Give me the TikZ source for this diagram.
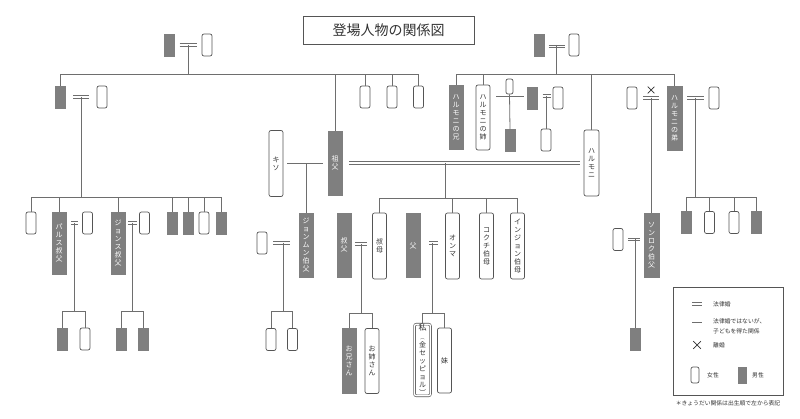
\documentclass[tikz,border=0pt]{standalone}
\usepackage{fontspec}
\setmainfont{Noto Sans CJK JP}
\usepackage{tikz}
\usetikzlibrary{positioning, calc, shapes, arrows, fit}

\definecolor{malegray}{HTML}{7F7F7F}
\definecolor{linegray}{HTML}{6E6E6E}
\definecolor{boxgray}{HTML}{555555}
\definecolor{textgray}{HTML}{333333}

\tikzset{
	person/.style = {inner sep = 0pt, align = center, font = \fontsize{7}{8}\selectfont},
	male/.style = {person, fill = malegray, draw = malegray, text = white},
	female/.style = {person, fill = white, draw = boxgray, line width = 0.7pt, rounded corners = 2pt, text = textgray},
	smallbox/.style = {minimum width = 10pt, minimum height = 22pt},
	tallbox/.style = {minimum width = 14pt, minimum height = 64pt},
	conn/.style = {draw = linegray, line width = 0.8pt},
	marriage/.style = {shorten < = 5pt, shorten > = 5pt,
		preaction = {draw = linegray, line width = 0.7pt, transform canvas = {yshift = 1.2pt}},
		postaction = {draw = linegray, line width = 0.7pt, transform canvas = {yshift = -1.2pt}}},
	divorce/.style = {cross out, draw = textgray, line width = 0.7pt, minimum size = 6pt, inner sep = 0pt},
	legendtext/.style = {font = \fontsize{5.8}{10}\selectfont, text = textgray, align = left, inner sep = 0pt, anchor = west}
}

\begin{document}
\begin{tikzpicture}[x = 1pt, y = -1pt]
	\fill[white] (0,0) rectangle (800,419);
	\useasboundingbox (0,0) rectangle (800,419);

	% title
	\node[draw = boxgray, line width = 0.7pt, minimum width = 171pt, minimum height = 28pt, font = \fontsize{14}{16}\selectfont, text = textgray] (title) at (388.5,30) {登場人物の関係図};

	% left side
	\node[male, smallbox] (lgf) at (169.5,45) {};
	\node[female, smallbox] (lgm) at (207,45) {};
	\node[male, smallbox] (lc1) at (60,97) {};
	\node[female, smallbox] (lc1w) at (102,97) {};
	\node[male, tallbox] (sofu) at (335,163) {祖\\父};
	\node[female, smallbox] (lc2) at (365,97) {};
	\node[female, smallbox] (lc3) at (392,97) {};
	\node[female, smallbox] (lc4) at (418.5,97) {};
	\node[female, tallbox, minimum height = 66pt] (kiso) at (276,163.5) {キ\\ソ};

	\node[female, smallbox] (p1) at (31,223) {};
	\node[male, tallbox, minimum height = 62pt] (pars) at (59,243) {パ\\ル\\ス\\叔\\父};
	\node[female, smallbox] (parsw) at (87.5,223) {};
	\node[male, tallbox, minimum height = 62pt] (jons) at (118,243) {ジ\\ョ\\ン\\ス\\叔\\父};
	\node[female, smallbox] (jonsw) at (144.5,223) {};
	\node[male, smallbox] (p2) at (172,223) {};
	\node[male, smallbox] (p3) at (188,223) {};
	\node[female, smallbox] (p4) at (204,223) {};
	\node[male, smallbox] (p5) at (221,223) {};
	\node[male, smallbox] (pk1) at (62,339) {};
	\node[female, smallbox] (pk2) at (85,339) {};
	\node[male, smallbox] (jk1) at (121,339) {};
	\node[male, smallbox] (jk2) at (143,339) {};

	% middle
	\node[male, tallbox] (jongmun) at (306,245) {ジ\\ョ\\ン\\ム\\ン\\伯\\父};
	\node[female, smallbox] (jongmunw) at (262,243) {};
	\node[female, smallbox] (jm1) at (271,339.5) {};
	\node[female, smallbox] (jm2) at (292.5,339.5) {};
	\node[male, tallbox] (oji) at (344,245) {叔\\父};
	\node[female, tallbox, minimum height = 66pt] (oba) at (379.5,246) {叔\\母};
	\node[male, tallbox, minimum height = 65pt] (ani) at (349,360.5) {お\\兄\\さ\\ん};
	\node[female, tallbox, minimum height = 65pt] (ane) at (372,361) {お\\姉\\さ\\ん};
	\node[male, tallbox] (chichi) at (413,245.5) {父};
	\node[female, tallbox, minimum height = 66pt] (omma) at (452.5,246) {オ\\ン\\マ};
	\node[female, double = white, double distance = 1.3pt, line width = 0.6pt, minimum width = 16pt, minimum height = 64pt] (watashi) at (422.5,360) {\fontsize{8}{9}\selectfont 私\\[1pt]\fontsize{4.3}{4.7}\selectfont ︵\\金\\セ\\ッ\\ピ\\ョ\\ル\\︶};
	\node[female, tallbox, minimum height = 65pt] (imouto) at (444.5,360.5) {妹};
	\node[female, tallbox, minimum height = 66pt] (kokchi) at (486.5,246) {コ\\ク\\チ\\伯\\母};
	\node[female, tallbox, minimum height = 66pt] (injon) at (517.5,246) {イ\\ン\\ジ\\ョ\\ン\\伯\\母};

	% right side
	\node[male, smallbox] (rgf) at (539.5,45) {};
	\node[female, smallbox] (rgm) at (574,45) {};
	\node[male, tallbox] (hbro) at (456,117) {ハ\\ル\\モ\\ニ\\の\\兄};
	\node[female, tallbox, minimum height = 65pt] (hsis) at (483,117.5) {ハ\\ル\\モ\\ニ\\の\\姉};
	\node[female, minimum width = 7pt, minimum height = 15pt] (hsmall) at (509.5,86.5) {};
	\node[male, smallbox] (hsk) at (510,140.5) {};
	\node[male, smallbox] (hm) at (532.5,98) {};
	\node[female, smallbox] (hw) at (558,98) {};
	\node[female, smallbox] (hmk) at (546,140) {};
	\node[female, tallbox, minimum width = 15pt, minimum height = 66pt] (hal) at (591.5,163) {ハ\\ル\\モ\\ニ};
	\node[female, smallbox] (exw) at (632,98) {};
	\node[male, tallbox, minimum width = 15pt] (hyo) at (674.5,118) {ハ\\ル\\モ\\ニ\\の\\弟};
	\node[female, smallbox] (hyow) at (714,98) {};
	\node[male, smallbox] (y1) at (686.5,222.5) {};
	\node[female, smallbox] (y2) at (709.5,222.5) {};
	\node[female, smallbox] (y3) at (734,222.5) {};
	\node[male, smallbox] (y4) at (756,222.5) {};
	\node[male, tallbox, minimum width = 15pt] (sonrok) at (651.5,245) {ソ\\ン\\ロ\\ク\\伯\\父};
	\node[female, smallbox] (sonrokw) at (618,239.5) {};
	\node[male, smallbox] (sk) at (635,339) {};
	\node[divorce] (x1) at (651,90) {};

	\coordinate (barA) at (0,74);
	\coordinate (barB) at (0,197);
	\coordinate (barC) at (0,311);
	\coordinate (barD) at (0,198);
	\coordinate (barE) at (0,313);

	% left connectors
	\path[marriage] (lgf) -- (lgm);
	\coordinate (lgc) at ($(lgf.east)!0.5!(lgm.west)$);
	\draw[conn] (lgc) -- (lgc |- barA);
	\draw[conn] (lc1.north) |- (lc4.north |- barA) -- (lc4.north);
	\draw[conn] (sofu.north) -- (sofu.north |- barA);
	\draw[conn] (lc2.north) -- (lc2.north |- barA);
	\draw[conn] (lc3.north) -- (lc3.north |- barA);

	\path[marriage, shorten < = 8pt, shorten > = 8pt] (lc1) -- (lc1w);
	\coordinate (lcc) at ($(lc1.east)!0.5!(lc1w.west)$);
	\draw[conn] (lcc) -- (lcc |- barB);
	\draw[conn] (p1.north) |- (p5.north |- barB) -- (p5.north);
	\draw[conn] (pars.north) -- (pars.north |- barB);
	\draw[conn] (jons.north) -- (jons.north |- barB);
	\draw[conn] (p2.north) -- (p2.north |- barB);
	\draw[conn] (p3.north) -- (p3.north |- barB);
	\draw[conn] (p4.north) -- (p4.north |- barB);

	\path[marriage, shorten > = 4pt] (parsw.west -| pars.east) -- (parsw.west);
	\coordinate (pc) at ($(parsw.west -| pars.east)!0.5!(parsw.west)$);
	\draw[conn] (pc) -- (pc |- barC);
	\draw[conn] (pk1.north) |- (pk2.north |- barC) -- (pk2.north);

	\path[marriage, shorten < = 3pt, shorten > = 2pt] (jonsw.west -| jons.east) -- (jonsw.west);
	\coordinate (jsc) at ($(jonsw.west -| jons.east)!0.5!(jonsw.west)$);
	\draw[conn] (jsc) -- (jsc |- barC);
	\draw[conn] (jk1.north) |- (jk2.north |- barC) -- (jk2.north);

	% middle connectors
	\draw[conn, shorten < = 4pt, shorten > = 5pt] (kiso.east) -- (kiso.east -| sofu.west);
	\draw[conn] (jongmun.north |- kiso.east) -- (jongmun.north);

	\path[marriage, shorten < = 6pt, shorten > = 9pt] (jongmunw.east) -- (jongmunw.east -| jongmun.west);
	\coordinate (jc) at ($(jongmunw.east)!0.5!(jongmunw.east -| jongmun.west)$);
	\draw[conn] (jc) -- (jc |- barC);
	\draw[conn] (jm1.north) |- (jm2.north |- barC) -- (jm2.north);

	\path[marriage, shorten < = 7pt, shorten > = 4pt] (sofu.east) -- (sofu.east -| hal.west);
	\coordinate (shc) at (sofu.east -| omma.west);
	\draw[conn] (shc) -- (shc |- barD);
	\draw[conn] (oba.north) |- (injon.north |- barD) -- (injon.north);
	\draw[conn] (omma.north) -- (omma.north |- barD);
	\draw[conn] (kokchi.north) -- (kokchi.north |- barD);

	\path[marriage, shorten < = 4pt, shorten > = 5pt] ([yshift = 1pt]oji.east) -- ([yshift = 1pt]oji.east -| oba.west);
	\coordinate (oc) at ($([yshift = 1pt]oji.east)!0.5!([yshift = 1pt]oji.east -| oba.west)$);
	\draw[conn] (oc) -- (oc |- barE);
	\draw[conn] (ani.north) |- (ane.north |- barE) -- (ane.north);

	\path[marriage, shorten < = 9pt, shorten > = 7pt] ([yshift = 2.5pt]chichi.east) -- ([yshift = 2.5pt]chichi.east -| omma.west);
	\coordinate (cc) at ($([yshift = 2.5pt]chichi.east)!0.5!([yshift = 2.5pt]chichi.east -| omma.west)$);
	\draw[conn] (cc) -- (cc |- barE);
	\draw[conn] (watashi.north) |- (imouto.north |- barE) -- (imouto.north);

	% right connectors
	\path[marriage, shorten < = 4pt, shorten > = 4pt] ([yshift = -1.5pt]rgf.east) -- ([yshift = -1.5pt]rgf.east -| rgm.west);
	\coordinate (rc) at ($(rgf.east)!0.5!(rgm.west)$);
	\draw[conn] (rc) -- (rc |- barA);
	\draw[conn] (hbro.north) |- (hyo.north |- barA) -- (hyo.north);
	\draw[conn] (hsis.north) -- (hsis.north |- barA);
	\draw[conn] (hal.north) -- (hal.north |- barA);

	\draw[conn, shorten < = 6pt, shorten > = 3pt] ([yshift = 2pt]hm.west -| hsis.east) -- ([yshift = 2pt]hm.west);
	\draw[conn] (hsmall.south) -- (hsk.north);
	\path[marriage, shorten < = 5pt, shorten > = 2pt] ([yshift = 2pt]hm.east) -- ([yshift = 2pt]hm.east -| hw.west);
	\draw[conn] ([yshift = 2pt]hm.east -| hmk.north) -- (hmk.north);

	\path[marriage, shorten < = 6pt, shorten > = 8pt] (exw.east) -- (exw.east -| hyo.west);
	\draw[conn] (exw.east -| sonrok.north) -- (sonrok.north);

	\path[marriage] (hyow.west -| hyo.east) -- (hyow.west);
	\coordinate (hc) at ($(hyow.west -| hyo.east)!0.5!(hyow.west)$);
	\draw[conn] (hc) -- (hc |- barB);
	\draw[conn] (y1.north) |- (y4.north |- barB) -- (y4.north);
	\draw[conn] (y2.north) -- (y2.north |- barB);
	\draw[conn] (y3.north) -- (y3.north |- barB);

	\path[marriage, shorten > = 4pt] (sonrokw.east) -- (sonrokw.east -| sonrok.west);
	\draw[conn] (sonrokw.east -| sk.north) -- (sk.north);

	% legend
	\node[draw = boxgray, line width = 0.7pt, minimum width = 110pt, minimum height = 108pt] (legend) at (728,341.5) {};
	\path[marriage, shorten < = 0pt, shorten > = 0pt] (692,304) -- (702,304);
	\node[legendtext] (lt1) at (713,304) {法律婚};
	\draw[conn] (692,322) -- (702,322);
	\node[legendtext] (lt2) at (713,326.5) {法律婚ではないが、\\子どもを得た関係};
	\node[divorce, minimum size = 7pt] (lx) at (697,345) {};
	\node[legendtext] (lt3) at (713,345) {離婚};
	\node[female, minimum width = 8pt, minimum height = 16pt] (lf) at (695,375) {};
	\node[legendtext] (lt4) at (707,375) {女性};
	\node[male, minimum width = 8pt, minimum height = 16pt] (lm) at (742,375) {};
	\node[legendtext] (lt5) at (752,375) {男性};
	\node[legendtext, anchor = center] (note) at (728,403) {＊きょうだい関係は出生順で左から表記};
\end{tikzpicture}
\end{document}
